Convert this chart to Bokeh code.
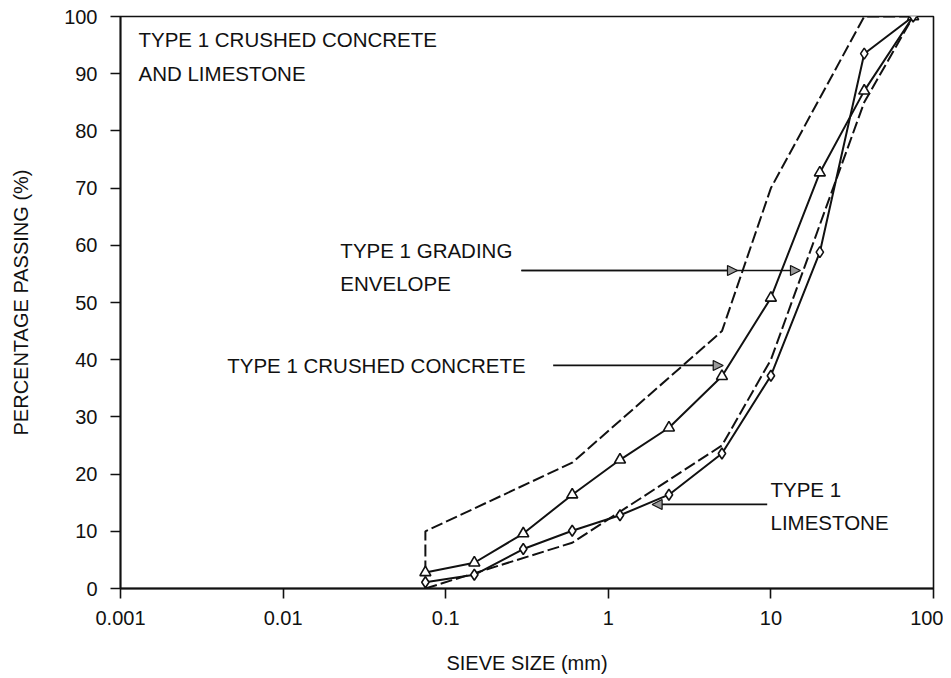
from bokeh.plotting import figure
from bokeh.models import (Range1d, FixedTicker, CustomJSTickFormatter, Label,
                          Arrow, NormalHead)
from bokeh.embed import file_html
from bokeh.resources import INLINE

# ---------------- data ----------------
sieve_mm = [0.075, 0.15, 0.3, 0.6, 1.18, 2.36, 5, 10, 20, 37.5, 75]
crushed_concrete = [2.8, 4.5, 9.6, 16.4, 22.5, 28.1, 37.1, 50.8, 72.7, 87.0, 100]
limestone = [1.1, 2.4, 6.9, 10.1, 12.8, 16.4, 23.6, 37.2, 58.8, 93.5, 100]

env_upper_x = [0.075, 0.075, 0.6, 5, 10, 37.5, 75]
env_upper_y = [0, 10, 22, 45, 70, 100, 100]
env_lower_x = [0.075, 0.6, 5, 10, 37.5, 75]
env_lower_y = [0, 8, 25, 40, 85, 100]

x_ticks = [0.001, 0.01, 0.1, 1, 10, 100]
y_ticks = [0, 10, 20, 30, 40, 50, 60, 70, 80, 90, 100]

FONT = "Liberation Sans"
INK = "#111111"

p = figure(width=943, height=678, x_axis_type="log",
           x_range=Range1d(0.001, 100), y_range=Range1d(0, 100),
           output_backend="svg", toolbar_location=None,
           min_border_left=120, min_border_right=10,
           min_border_top=16, min_border_bottom=90)

p.xgrid.visible = False
p.ygrid.visible = False
p.outline_line_color = INK
p.outline_line_width = 1.6
p.background_fill_color = "white"
p.border_fill_color = "white"

# axes
p.xaxis.ticker = FixedTicker(ticks=x_ticks)
p.xaxis.formatter = CustomJSTickFormatter(code="return tick.toString();")
p.yaxis.ticker = FixedTicker(ticks=y_ticks)
for ax in (p.xaxis[0], p.yaxis[0]):
    ax.axis_line_color = INK
    ax.axis_line_width = 1.8
    ax.major_tick_line_color = INK
    ax.major_tick_line_width = 1.6
    ax.major_tick_in = 0
    ax.major_tick_out = 10
    ax.minor_tick_in = 0
    ax.minor_tick_out = 0
    ax.major_label_text_font = FONT
    ax.major_label_text_font_size = "20px"
    ax.major_label_text_color = INK
    ax.axis_label_text_font = FONT
    ax.axis_label_text_font_size = "20px"
    ax.axis_label_text_font_style = "normal"
    ax.axis_label_text_color = INK

p.xaxis.major_label_standoff = 12
p.yaxis.major_label_standoff = 13
p.xaxis.axis_label = "SIEVE SIZE (mm)"
p.xaxis.axis_label_standoff = 24
p.yaxis.axis_label = "PERCENTAGE PASSING (%)"
p.yaxis.axis_label_standoff = 29

# grading envelope (dashed)
p.line(env_upper_x, env_upper_y, line_color=INK, line_width=2, line_dash="12 4")
p.line(env_lower_x, env_lower_y, line_color=INK, line_width=2, line_dash="12 4")

# measured gradings
p.line(sieve_mm, crushed_concrete, line_color=INK, line_width=2)
p.line(sieve_mm, limestone, line_color=INK, line_width=2)
p.scatter(sieve_mm, crushed_concrete, marker="triangle", size=11,
          fill_color="white", line_color=INK, line_width=1.6)
p.scatter(sieve_mm, limestone, marker="diamond", size=11,
          fill_color="white", line_color=INK, line_width=1.6)

# annotations
labels = [
    ("TYPE 1 CRUSHED CONCRETE", 0.00129, 95.9),
    ("AND LIMESTONE", 0.00129, 90.1),
    ("TYPE 1 GRADING", 0.0225, 59.1),
    ("ENVELOPE", 0.0225, 53.3),
    ("TYPE 1 CRUSHED CONCRETE", 0.00453, 39.0),
    ("TYPE 1", 9.94, 17.3),
    ("LIMESTONE", 9.94, 11.5),
]
for txt, lx, ly in labels:
    p.add_layout(Label(x=lx, y=ly, text=txt, text_font=FONT,
                       text_font_size="20.5px", text_color=INK,
                       text_align="left", text_baseline="middle"))

arrows = [
    (0.292, 55.6, 15.2, 55.6),
    (0.292, 55.6, 6.23, 55.6),
    (0.458, 39.0, 5.09, 39.0),
    (9.49, 14.7, 1.86, 14.7),
]
for xs, ys, xe, ye in arrows:
    p.add_layout(Arrow(end=NormalHead(size=10, fill_color="#999999",
                                      line_color=INK, line_width=1.2),
                       x_start=xs, y_start=ys, x_end=xe, y_end=ye,
                       line_color=INK, line_width=1.6))

open("out.html", "w").write(file_html(p, INLINE))
